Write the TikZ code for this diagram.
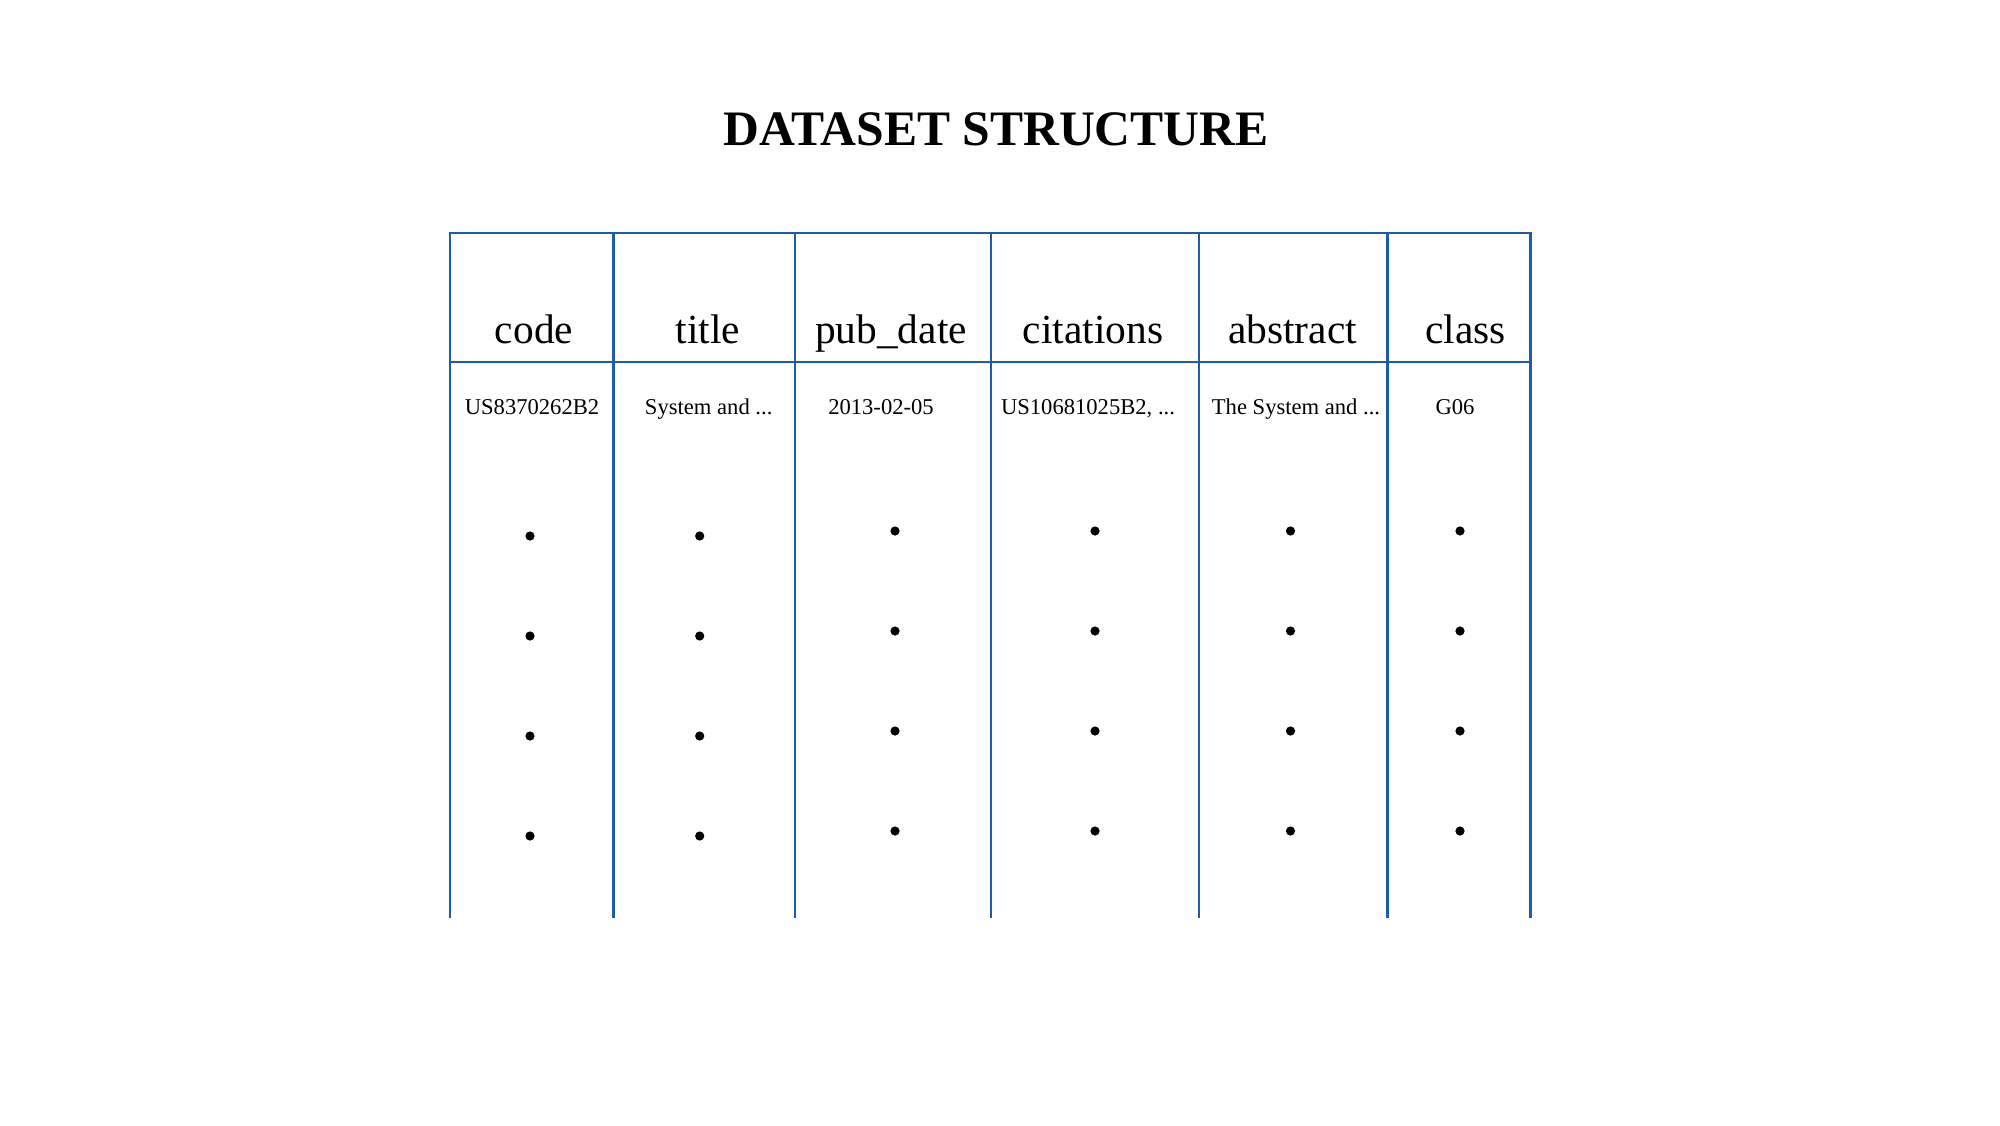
\documentclass[tikz,border=0pt]{standalone}
\usepackage{fontspec}
\setmainfont{Liberation Serif}
\definecolor{gridblue}{RGB}{30,92,166}
\tikzset{
  grid/.style={draw=gridblue, line width=1.25pt},
  headtext/.style={anchor=base, inner sep=0pt, font=\fontsize{20.7pt}{24pt}\selectfont},
  celltext/.style={anchor=base, inner sep=0pt, font=\fontsize{11.3pt}{13pt}\selectfont},
  titletext/.style={anchor=base, inner sep=0pt, font=\fontsize{24.8pt}{28pt}\selectfont\bfseries},
  rowdot/.style={fill=black}
}
\begin{document}
\begin{tikzpicture}[x=0.5pt,y=-0.5pt]
\useasboundingbox[fill=white] (0,0) rectangle (2000,1125);
% title
\node[titletext] (title) at (996,145) {DATASET STRUCTURE};
% grid coordinates
\foreach \n/\xx in {0/450,1/613.5,2/795,3/991,4/1199,5/1387.5,6/1530.5}{
  \coordinate (t\n) at (\xx,233);
  \coordinate (b\n) at (\xx,918);
}
\coordinate (hl) at (450,362);
\coordinate (hr) at (1530.5,362);
\foreach \n in {0,...,6}{ \draw[grid] (t\n) -- (b\n); }
\draw[grid, line cap=rect] (t0) -- (t6);
\draw[grid] (hl) -- (hr);
% headers
\node[headtext] (hcode) at (534,343) {code};
\node[headtext] (htitle) at (708,343) {title};
\node[headtext] (hdate) at (891,343) {pub\_date};
\node[headtext] (hcit) at (1093,343) {citations};
\node[headtext] (habs) at (1292.5,343) {abstract};
\node[headtext] (hclass) at (1465.5,343) {class};
% first row
\node[celltext] (dcode) at (532,414) {US8370262B2};
\node[celltext] (dtitle) at (708.7,414) {System and ...};
\node[celltext] (ddate) at (881,414) {2013-02-05};
\node[celltext] (dcit) at (1088,414) {US10681025B2, ...};
\node[celltext] (dabs) at (1296,414) {The System and ...};
\node[celltext] (dclass) at (1455,414) {G06};
% dots
\foreach \k in {0,1,2,3}{
  \fill[rowdot] (530,536+100*\k) circle[radius=2.3pt];
  \fill[rowdot] (699.7,536+100*\k) circle[radius=2.3pt];
  \foreach \xx in {895,1095,1290.5,1460}{
    \fill[rowdot] (\xx,531+100*\k) circle[radius=2.3pt];
  }
}
\end{tikzpicture}
\end{document}
